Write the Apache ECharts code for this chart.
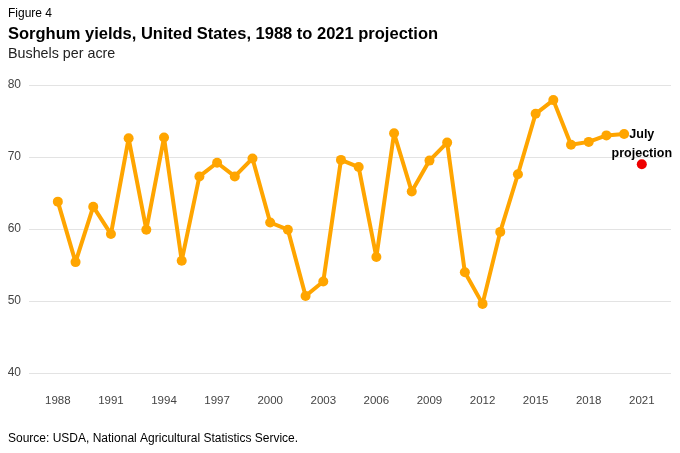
<!DOCTYPE html>
<html>
<head>
<meta charset="utf-8">
<script src="https://cdn.jsdelivr.net/npm/echarts@6/dist/echarts.min.js"></script>
<style>
  html, body { margin: 0; padding: 0; background: #fff; }
  #chart { width: 680px; height: 453px; }
</style>
</head>
<body>
<div id="chart"></div>
<script>
// yields, bushels per acre
var years = [1988, 1989, 1990, 1991, 1992, 1993, 1994, 1995, 1996, 1997, 1998,
  1999, 2000, 2001, 2002, 2003, 2004, 2005, 2006, 2007, 2008, 2009, 2010,
  2011, 2012, 2013, 2014, 2015, 2016, 2017, 2018, 2019, 2020];
var yields = [63.8, 55.4, 63.1, 59.3, 72.6, 59.9, 72.7, 55.6, 67.3, 69.2, 67.3,
  69.8, 60.9, 59.9, 50.7, 52.7, 69.6, 68.6, 56.1, 73.3, 65.2, 69.5, 72.0,
  54.0, 49.6, 59.6, 67.6, 76.0, 77.9, 71.7, 72.1, 73.0, 73.2];
var projYear = [2021];
var projValue = [69.0];
var xTicks = [1988, 1991, 1994, 1997, 2000, 2003, 2006, 2009, 2012, 2015, 2018, 2021];
var yTicks = [40, 50, 60, 70, 80];

var font = 'Liberation Sans, Arial, sans-serif';

var lineData = [];
for (var i = 0; i < years.length; i++) {
  lineData.push([years[i], yields[i]]);
}

var chart = echarts.init(document.getElementById('chart'));
chart.setOption({
  animation: false,
  textStyle: { fontFamily: font },
  title: [
    { text: 'Figure 4', left: 3, top: 3,
      textStyle: { fontSize: 12, fontWeight: 'normal', color: '#000' } },
    { text: 'Sorghum yields, United States, 1988 to 2021 projection', left: 3, top: 21,
      textStyle: { fontSize: 16.5, fontWeight: 'bold', color: '#000' } },
    { text: 'Bushels per acre', left: 3, top: 42,
      textStyle: { fontSize: 14.3, fontWeight: 'normal', color: '#222' } },
    { text: 'Source: USDA, National Agricultural Statistics Service.', left: 3, top: 428,
      textStyle: { fontSize: 12, fontWeight: 'normal', color: '#000' } }
  ],
  grid: { left: 29, right: 9, top: 85, bottom: 80 },
  xAxis: {
    type: 'value',
    min: 1986.37,
    max: 2022.65,
    axisLine: { show: false },
    axisTick: { show: false },
    splitLine: { show: false },
    axisLabel: {
      customValues: xTicks,
      color: '#444',
      fontSize: 11.5,
      margin: 22,
      formatter: function (v) { return String(v); }
    }
  },
  yAxis: {
    type: 'value',
    min: 40,
    max: 80,
    interval: 10,
    axisLine: { show: false },
    axisTick: { show: false },
    axisLabel: {
      customValues: yTicks,
      color: '#444',
      fontSize: 12,
      margin: 8
    },
    splitLine: { lineStyle: { color: '#e3e3e3', width: 1 } }
  },
  series: [
    {
      type: 'line',
      data: lineData,
      symbol: 'circle',
      symbolSize: 10,
      lineStyle: { color: '#ffa500', width: 4 },
      itemStyle: { color: '#ffa500' }
    },
    {
      type: 'scatter',
      data: [[projYear[0], projValue[0]]],
      symbolSize: 10,
      itemStyle: { color: '#ee0000', opacity: 1 },
      label: {
        show: true,
        position: 'top',
        distance: 3,
        offset: [0, 7],
        formatter: 'July\nprojection',
        align: 'center',
        fontSize: 12.5,
        fontWeight: 'bold',
        lineHeight: 19,
        color: '#000'
      }
    }
  ]
});
</script>
</body>
</html>
